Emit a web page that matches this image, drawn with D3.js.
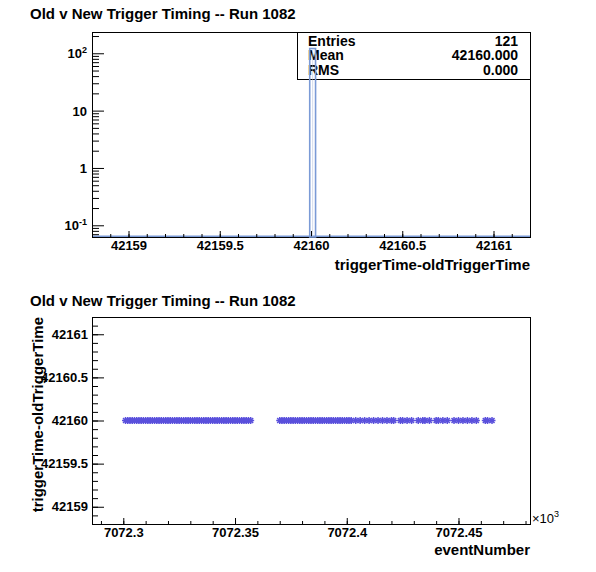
<!DOCTYPE html>
<html>
<head>
<meta charset="utf-8">
<script src="https://cdn.jsdelivr.net/npm/d3@7"></script>
<style>
  body { margin: 0; background: #fff; }
  svg { font-family: "Liberation Sans", Arial, Helvetica, sans-serif; font-weight: bold; }
</style>
</head>
<body>
<div id="chart"></div>
<script>
// ---- data ----
var title = "Old v New Trigger Timing -- Run 1082";
// histogram: one filled bin
var histBins = [{ lo: 42159.993, hi: 42160.025, count: 121 }];
var histStats = [
  { name: "Entries", value: "121" },
  { name: "Mean", value: "42160.000" },
  { name: "RMS", value: "0.000" }
];
var histXTicks = [42159, 42159.5, 42160, 42160.5, 42161];
var histYTicks = [0.1, 1, 10, 100];

// scatter: event numbers (all at dt = 42160)
var eventBase = 7072300;
var eventOffsets = [
  1, 2, 3, 4, 5, 6, 7, 8, 9, 10, 11, 12, 13, 14, 15, 16, 17, 18, 19, 20,
  21, 22, 23, 24, 25, 26, 27, 28, 29, 30, 31, 32, 33, 34, 35, 36, 37, 38, 39, 40,
  41, 42, 43, 44, 45, 46, 47, 48, 49, 50, 51, 52, 53, 54, 55, 56, 57,
  70, 71, 72, 73, 74, 75, 76, 77, 78, 79, 80, 81, 82, 83, 84, 85, 86, 87, 88, 89,
  90, 91, 92, 93, 94, 95, 96, 97, 98, 99, 100, 101, 102,
  104, 106, 108, 110, 112, 114, 116, 118, 120, 121,
  124, 125, 127, 129,
  132, 134, 135, 137,
  140, 141, 143, 145,
  148, 150, 152, 154, 156, 158,
  162, 163, 165
];
var timeDiff = 42160;
var scatXTicks = [7072300, 7072350, 7072400, 7072450];
var scatXLabels = ["7072.3", "7072.35", "7072.4", "7072.45"];
var scatYTicks = [42159, 42159.5, 42160, 42160.5, 42161];

var scatter = eventOffsets.map(function (d) { return { ev: eventBase + d, dt: timeDiff }; });

// ---- layout ----
var W = 596, H = 572;
var svg = d3.select("#chart").append("svg").attr("width", W).attr("height", H);

var L = 92, R = 530;
var top1 = 32, bot1 = 237;
var top2 = 317, bot2 = 524;

var x1 = d3.scaleLinear().domain([42158.8, 42161.2]).range([L, R]);
var y1 = d3.scaleLog().domain([0.0625, 235]).range([bot1, top1]);
var x2 = d3.scaleLinear().domain([7072286, 7072482]).range([L, R]);
var y2 = d3.scaleLinear().domain([42158.8, 42161.2]).range([bot2, top2]);

function fmt(d) { return d3.format("")(d); }

// ---------------- top pad ----------------
svg.append("text").attr("x", 30).attr("y", 19).attr("font-size", 15).text(title);

// histogram baseline (empty bins drawn at the bottom)
svg.append("line")
  .attr("x1", L).attr("x2", R).attr("y1", bot1 - 0.5).attr("y2", bot1 - 0.5)
  .attr("stroke", "#7a9ad6").attr("stroke-width", 2);

// x axis (top pad)
var x1Minor = d3.range(42158.8, 42161.21, 0.1).map(function (v) { return Math.round(v * 10) / 10; });
svg.append("g").attr("transform", "translate(0," + bot1 + ")")
  .call(d3.axisBottom(x1).tickValues(x1Minor).tickSize(-3).tickFormat(""))
  .call(function (g) { g.select(".domain").remove(); });
svg.append("g").attr("transform", "translate(0," + bot1 + ")")
  .call(d3.axisBottom(x1).tickValues(histXTicks).tickSize(-6).tickPadding(4).tickFormat(fmt))
  .call(function (g) {
    g.select(".domain").remove();
    g.selectAll("text").attr("font-size", 13).attr("font-family", null).attr("fill", "#000");
  });

// y axis (log)
var y1Minor = [];
[0.01, 0.1, 1, 10, 100].forEach(function (dec) {
  for (var k = 2; k <= 9; k++) {
    var v = dec * k;
    if (v >= 0.0625 && v <= 235) y1Minor.push(v);
  }
});
svg.append("g").attr("transform", "translate(" + L + ",0)")
  .call(d3.axisLeft(y1).tickValues(y1Minor).tickSize(-7).tickFormat(""))
  .call(function (g) { g.select(".domain").remove(); });
svg.append("g").attr("transform", "translate(" + L + ",0)")
  .call(d3.axisLeft(y1).tickValues(histYTicks).tickSize(-12).tickFormat(""))
  .call(function (g) { g.select(".domain").remove(); });

var ylab = svg.append("g").selectAll("text").data(histYTicks).enter().append("text")
  .attr("x", 87).attr("y", function (d) { return y1(d) + 5; })
  .attr("text-anchor", "end").attr("font-size", 13);
ylab.each(function (d) {
  var t = d3.select(this);
  var e = Math.round(Math.log10(d));
  if (e === 0) t.text("1");
  else if (e === 1) t.text("10");
  else {
    t.append("tspan").text("10");
    t.append("tspan").attr("dy", -5).attr("font-size", 9).text(e);
  }
});

// frame
svg.append("rect").attr("x", L + 0.5).attr("y", top1 + 0.5)
  .attr("width", R - L).attr("height", bot1 - top1)
  .attr("fill", "none").attr("stroke", "#000").attr("stroke-width", 1);

svg.append("text").attr("x", R).attr("y", 270).attr("text-anchor", "end")
  .attr("font-size", 15).text("triggerTime-oldTriggerTime");

// stats box
var sbX = 297, sbY = 32, sbW = R - 297, sbH = 47;
svg.append("rect").attr("x", sbX + 0.5).attr("y", sbY + 0.5).attr("width", sbW).attr("height", sbH)
  .attr("fill", "#fff").attr("stroke", "#000");
var sr = svg.append("g").selectAll("g").data(histStats).enter().append("g");
sr.append("text").attr("x", 308).attr("y", function (d, i) { return 45.5 + i * 14.5; })
  .attr("font-size", 14).text(function (d) { return d.name; });
sr.append("text").attr("x", 518).attr("y", function (d, i) { return 45.5 + i * 14.5; })
  .attr("text-anchor", "end").attr("font-size", 14).text(function (d) { return d.value; });

// histogram bin (drawn over the stats box, as in the original)
var g1 = svg.append("g");
g1.selectAll("rect.bin").data(histBins).enter().append("rect")
  .attr("class", "bin")
  .attr("x", function (d) { return x1(d.lo); })
  .attr("width", function (d) { return x1(d.hi) - x1(d.lo); })
  .attr("y", function (d) { return y1(d.count); })
  .attr("height", function (d) { return bot1 - y1(d.count); })
  .attr("fill", "none").attr("stroke", "#7a9ad6").attr("stroke-width", 1.6);
g1.selectAll("line.binfill").data(histBins).enter().append("line")
  .attr("x1", function (d) { return (x1(d.lo) + x1(d.hi)) / 2; })
  .attr("x2", function (d) { return (x1(d.lo) + x1(d.hi)) / 2; })
  .attr("y1", function (d) { return y1(d.count) + 2; })
  .attr("y2", bot1)
  .attr("stroke", "#a8b8d8").attr("stroke-width", 1).attr("stroke-dasharray", "1,1");

// ---------------- bottom pad ----------------
svg.append("text").attr("x", 30).attr("y", 306).attr("font-size", 15).text(title);

var star = "M-3.5,0H3.5M0,-3.5V3.5M-2.5,-2.5L2.5,2.5M-2.5,2.5L2.5,-2.5";
svg.append("g").selectAll("path").data(scatter).enter().append("path")
  .attr("transform", function (d) { return "translate(" + x2(d.ev) + "," + y2(d.dt) + ")"; })
  .attr("d", star).attr("fill", "none").attr("stroke", "#5a50dc").attr("stroke-width", 1.5);

var x2Minor = d3.range(7072290, 7072481, 10);
svg.append("g").attr("transform", "translate(0," + bot2 + ")")
  .call(d3.axisBottom(x2).tickValues(x2Minor).tickSize(-3).tickFormat(""))
  .call(function (g) { g.select(".domain").remove(); });
svg.append("g").attr("transform", "translate(0," + bot2 + ")")
  .call(d3.axisBottom(x2).tickValues(scatXTicks).tickSize(-6).tickPadding(4)
    .tickFormat(function (d, i) { return scatXLabels[i]; }))
  .call(function (g) {
    g.select(".domain").remove();
    g.selectAll("text").attr("font-size", 13).attr("font-family", null).attr("fill", "#000");
  });

var y2Minor = d3.range(42158.8, 42161.21, 0.1).map(function (v) { return Math.round(v * 10) / 10; });
svg.append("g").attr("transform", "translate(" + L + ",0)")
  .call(d3.axisLeft(y2).tickValues(y2Minor).tickSize(-6).tickFormat(""))
  .call(function (g) { g.select(".domain").remove(); });
svg.append("g").attr("transform", "translate(" + L + ",0)")
  .call(d3.axisLeft(y2).tickValues(scatYTicks).tickSize(-12).tickPadding(5).tickFormat(fmt))
  .call(function (g) {
    g.select(".domain").remove();
    g.selectAll("text").attr("font-size", 13).attr("font-family", null).attr("fill", "#000")
      .attr("x", -4);
  });

svg.append("rect").attr("x", L + 0.5).attr("y", top2 + 0.5)
  .attr("width", R - L).attr("height", bot2 - top2)
  .attr("fill", "none").attr("stroke", "#000").attr("stroke-width", 1);

var mult = svg.append("text").attr("x", 532).attr("y", 523).attr("font-size", 13).attr("font-weight", "normal");
mult.append("tspan").text("\u00d710");
mult.append("tspan").attr("dy", -6).attr("font-size", 9).text("3");

svg.append("text").attr("x", R).attr("y", 555).attr("text-anchor", "end")
  .attr("font-size", 15).text("eventNumber");

svg.append("text").attr("transform", "translate(43," + top2 + ") rotate(-90)")
  .attr("text-anchor", "end").attr("font-size", 15).text("triggerTime-oldTriggerTime");
</script>
</body>
</html>
